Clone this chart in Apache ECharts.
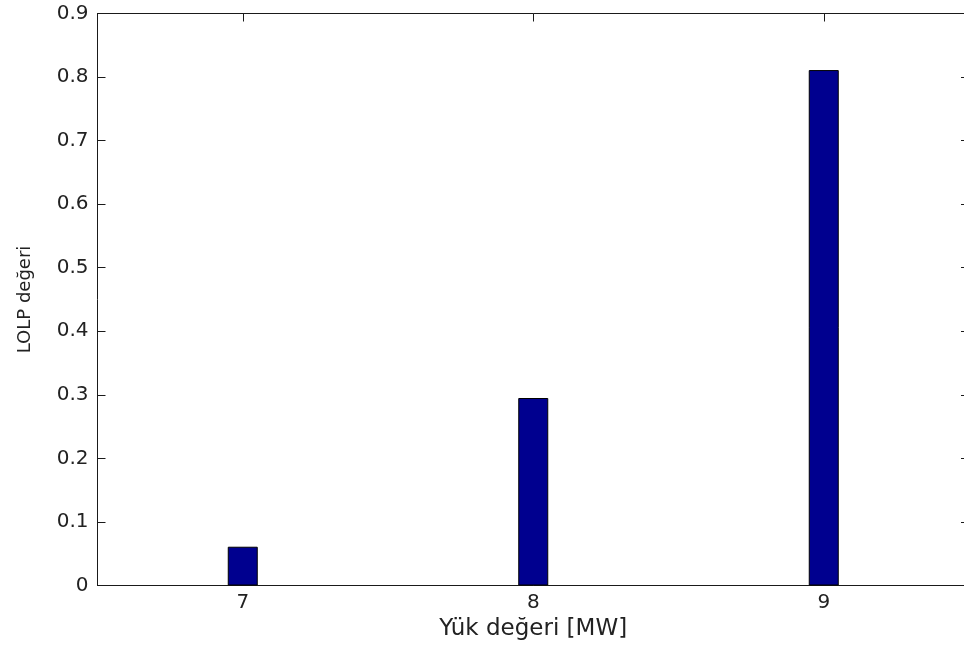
<!DOCTYPE html>
<html>
<head>
<meta charset="utf-8">
<script src="https://cdn.jsdelivr.net/npm/echarts@6/dist/echarts.min.js"></script>
<style>
  html, body { margin: 0; padding: 0; background: #ffffff; overflow: hidden; }
  #chart { width: 972px; height: 653px; }
</style>
</head>
<body>
<div id="chart"></div>
<script>
// Data
const categories = ['7', '8', '9'];
const lolpValues = [0.061, 0.295, 0.811];
const yMin = 0;
const yMax = 0.9;
const yInterval = 0.1;
const xTitle = 'Yük değeri [MW]';
const yTitle = 'LOLP değeri';

const axisColor = '#1a1a1a';
const textColor = '#222222';
const font = 'DejaVu Sans';

const chart = echarts.init(document.getElementById('chart'), null, { renderer: 'canvas' });

chart.setOption({
  backgroundColor: '#ffffff',
  animation: false,
  grid: { left: 97.5, top: 13.5, width: 871.5, bottom: 67.5, containLabel: false },
  xAxis: [
    {
      type: 'category',
      data: categories,
      position: 'bottom',
      boundaryGap: true,
      axisLine: { show: true, lineStyle: { color: axisColor, width: 1 } },
      axisTick: { show: true, inside: true, alignWithLabel: true, length: 8, lineStyle: { color: axisColor } },
      axisLabel: { show: true, margin: 7, color: textColor, fontFamily: font, fontSize: 20 },
      splitLine: { show: false },
      name: xTitle,
      nameLocation: 'middle',
      nameGap: 24,
      nameTextStyle: { color: textColor, fontFamily: font, fontSize: 23, verticalAlign: 'top' }
    },
    {
      type: 'category',
      data: categories,
      position: 'top',
      boundaryGap: true,
      axisLine: { show: true, onZero: false, lineStyle: { color: axisColor, width: 1 } },
      axisTick: { show: true, inside: true, alignWithLabel: true, length: 8, lineStyle: { color: axisColor } },
      axisLabel: { show: false },
      splitLine: { show: false }
    }
  ],
  yAxis: [
    {
      type: 'value',
      position: 'left',
      min: yMin,
      max: yMax,
      interval: yInterval,
      axisLine: { show: true, lineStyle: { color: axisColor, width: 1 } },
      axisTick: { show: true, inside: true, length: 8, lineStyle: { color: axisColor } },
      axisLabel: { show: true, margin: 9, color: textColor, fontFamily: font, fontSize: 20 },
      splitLine: { show: false },
      name: yTitle,
      nameLocation: 'middle',
      nameGap: 63,
      nameRotate: 90,
      nameTextStyle: { color: textColor, fontFamily: font, fontSize: 18 }
    },
    {
      type: 'value',
      position: 'right',
      min: yMin,
      max: yMax,
      interval: yInterval,
      axisLine: { show: true, lineStyle: { color: axisColor, width: 1 } },
      axisTick: { show: true, inside: true, length: 8, lineStyle: { color: axisColor } },
      axisLabel: { show: false },
      splitLine: { show: false }
    }
  ],
  series: [
    {
      type: 'bar',
      xAxisIndex: 0,
      yAxisIndex: 0,
      data: lolpValues,
      barWidth: 30,
      itemStyle: { color: '#00008f', borderColor: '#000000', borderWidth: 1 }
    }
  ]
});
</script>
</body>
</html>
